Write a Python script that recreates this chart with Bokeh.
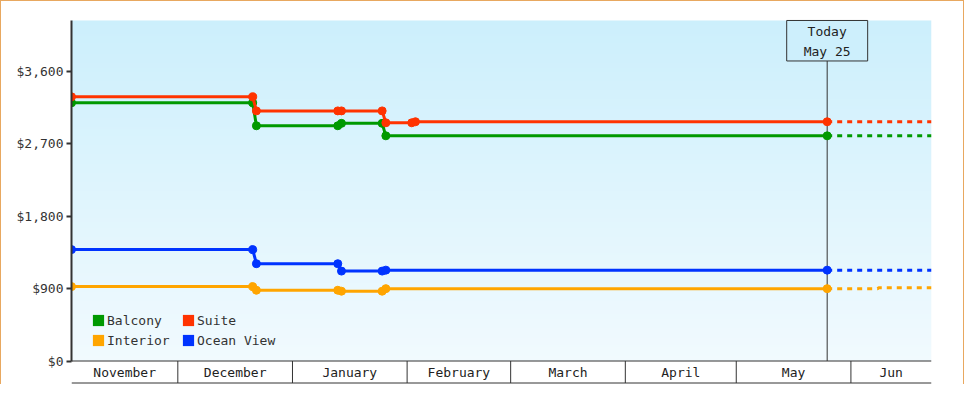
from datetime import datetime
import numpy as np
from bokeh.plotting import figure
from bokeh.models import (Range1d, FixedTicker, NumeralTickFormatter, Legend,
                          LegendItem, Label, ColumnDataSource)
from bokeh.core.properties import value
from bokeh.embed import file_html
from bokeh.resources import INLINE

# ---------------- data ----------------
range_start = "2022-11-02 06:00"
today = "2023-05-25 14:00"
range_end = "2023-06-22 19:00"
today_text = "Today\nMay 25"

month_labels = ["November", "December", "January", "February", "March", "April", "May", "Jun"]
month_starts = ["2022-11-01 00:00", "2022-12-01 00:00", "2023-01-01 00:00", "2023-02-01 00:00",
                "2023-03-01 00:00", "2023-04-01 00:00", "2023-05-01 00:00", "2023-06-01 00:00",
                "2023-07-01 00:00"]

y_ticks = [0, 900, 1800, 2700, 3600]

common_dates = ["2022-11-02 06:00", "2022-12-21 06:00", "2022-12-22 06:00", "2023-01-13 06:00",
                "2023-01-14 06:00", "2023-01-25 06:00", "2023-01-26 06:00", "2023-05-25 14:00"]
suite_dates = ["2022-11-02 06:00", "2022-12-21 06:00", "2022-12-22 06:00", "2023-01-13 06:00",
               "2023-01-14 06:00", "2023-01-25 06:00", "2023-01-26 06:00", "2023-02-02 06:00",
               "2023-02-03 06:00", "2023-05-25 14:00"]

balcony_prices = [3210, 3210, 2925, 2925, 2955, 2955, 2800, 2800]
suite_prices = [3285, 3285, 3110, 3110, 3110, 3110, 2962, 2962, 2975, 2975]
interior_prices = [925, 925, 880, 880, 868, 868, 900, 900]
ocean_prices = [1385, 1385, 1210, 1210, 1118, 1118, 1130, 1130]

forecast_dates = ["2023-05-25 14:00", "2023-06-22 19:00"]
balcony_forecast = [2800, 2800]
suite_forecast = [2975, 2975]
ocean_forecast = [1130, 1130]
interior_forecast_dates = ["2023-05-25 14:00", "2023-06-08 06:00", "2023-06-08 12:00", "2023-06-22 19:00"]
interior_forecast = [900, 900, 912, 912]

# ---------------- styles / layout ----------------
FONT = "DejaVu Sans Mono"
COLORS = {"Balcony": "#009900", "Suite": "#FF3300", "Interior": "#FFA500", "Ocean View": "#0033FF"}
INK = "#333333"
W, H = 964, 384
BL, BR, BT, BB = 71, 33, 17, 0
FRAME_H = H - BT - BB
Y_MIN, Y_MAX = -292, 4271
PLOT_TOP = 4234
BAND_PX = 22


def ms(s):
    d = datetime.strptime(s, "%Y-%m-%d %H:%M")
    return (d - datetime(1970, 1, 1)).total_seconds() * 1000.0


def mss(lst):
    return [ms(s) for s in lst]


x0, x1 = ms(range_start), ms(range_end)
data_per_px = (Y_MAX - Y_MIN) / FRAME_H
band = BAND_PX * data_per_px

p = figure(width=W, height=H, x_range=Range1d(x0, x1), y_range=Range1d(Y_MIN, Y_MAX),
           output_backend="svg", toolbar_location=None, x_axis_location=None,
           min_border_left=BL, min_border_right=BR, min_border_top=BT, min_border_bottom=BB,
           background_fill_color=None, border_fill_color=None)
p.outline_line_color = None
p.xgrid.visible = False
p.ygrid.visible = False
p.styles = {"box-shadow": "inset 1px 1px 0 #E8A860, inset -1px 0 0 #E8A860",
            "background-color": "white"}

# gradient background
N = 340
img = np.empty((N, 1), dtype=np.uint32)
view = img.view(dtype=np.uint8).reshape((N, 1, 4))
bottom_c = np.array([241, 250, 254], dtype=float)
top_c = np.array([204, 239, 252], dtype=float)
for i in range(N):
    t = i / (N - 1)
    c = bottom_c * (1 - t) + top_c * t
    view[i, 0, 0:3] = np.round(c).astype(np.uint8)
    view[i, 0, 3] = 255
p.image_rgba(image=[img], x=x0, y=0, dw=x1 - x0, dh=PLOT_TOP)

# y axis
ax = p.yaxis[0]
ax.bounds = (0, PLOT_TOP)
ax.ticker = FixedTicker(ticks=y_ticks)
ax.formatter = NumeralTickFormatter(format="$0,0")
ax.major_tick_out = 5
ax.major_tick_in = 0
ax.minor_tick_out = 0
ax.minor_tick_in = 0
ax.axis_line_width = 2
ax.axis_line_color = INK
ax.major_tick_line_width = 2
ax.major_tick_line_color = INK
ax.major_label_standoff = 3
ax.major_label_text_font = FONT
ax.major_label_text_font_size = "13px"
ax.major_label_text_color = INK

# month band
ms_starts = mss(month_starts)
mids, seps = [], []
for i, lab in enumerate(month_labels):
    a = max(x0, ms_starts[i])
    b = min(x1, ms_starts[i + 1])
    mids.append((a + b) / 2)
    if x0 < ms_starts[i] < x1:
        seps.append(ms_starts[i])
p.segment(x0=[x0, x0], y0=[0, -band], x1=[x1, x1], y1=[0, -band], line_color=INK, line_width=1)
p.segment(x0=seps, y0=[0] * len(seps), x1=seps, y1=[-band] * len(seps), line_color=INK, line_width=1)
p.text(x=mids, y=[-band / 2] * len(mids), text=month_labels, text_align="center",
       text_baseline="middle", text_font=value(FONT), text_font_size="13px", text_color="#222222")

# today line
t_ms = ms(today)
p.segment(x0=[t_ms], y0=[0], x1=[t_ms], y1=[PLOT_TOP], line_color=INK, line_width=1)

series = [
    ("Balcony", common_dates, balcony_prices, forecast_dates, balcony_forecast),
    ("Interior", common_dates, interior_prices, interior_forecast_dates, interior_forecast),
    ("Ocean View", common_dates, ocean_prices, forecast_dates, ocean_forecast),
    ("Suite", suite_dates, suite_prices, forecast_dates, suite_forecast),
]
legend_r = {}
for name, d, v, fd, fv in series:
    c = COLORS[name]
    src = ColumnDataSource(dict(x=mss(d), y=v))
    p.line(x=mss(fd), y=fv, line_color=c, line_width=3, line_dash="5 5")
    p.line("x", "y", source=src, line_color=c, line_width=3)
    p.scatter("x", "y", source=src, marker="circle", size=8, fill_color=c, line_color=c)
    legend_r[name] = p.rect("x", "y", source=src, width=0, height=0, fill_color=c, line_color=None)

lg_common = dict(padding=0, margin=0, spacing=0, glyph_width=14, glyph_height=14, label_standoff=2,
                 label_height=20, label_text_font=FONT, label_text_font_size="13px",
                 label_text_color=INK, background_fill_alpha=0, border_line_color=None)
leg1 = Legend(items=[LegendItem(label="Balcony", renderers=[legend_r["Balcony"]]),
                     LegendItem(label="Interior", renderers=[legend_r["Interior"]])],
              location=(20, 34), **lg_common)
leg2 = Legend(items=[LegendItem(label="Suite", renderers=[legend_r["Suite"]]),
                     LegendItem(label="Ocean View", renderers=[legend_r["Ocean View"]])],
              location=(110, 34), **lg_common)
p.add_layout(leg1)
p.add_layout(leg2)

lab = Label(x=t_ms, y=PLOT_TOP, text=today_text, text_align="center", text_baseline="top",
            text_font=FONT, text_font_size="13px", text_color="#222222", text_line_height=1.3,
            background_fill_color="#CDEFFC", border_line_color=INK, border_line_width=1,
            padding=dict(left=17, right=17, top=4, bottom=2))
p.add_layout(lab)

open("out.html", "w").write(file_html(p, INLINE))
